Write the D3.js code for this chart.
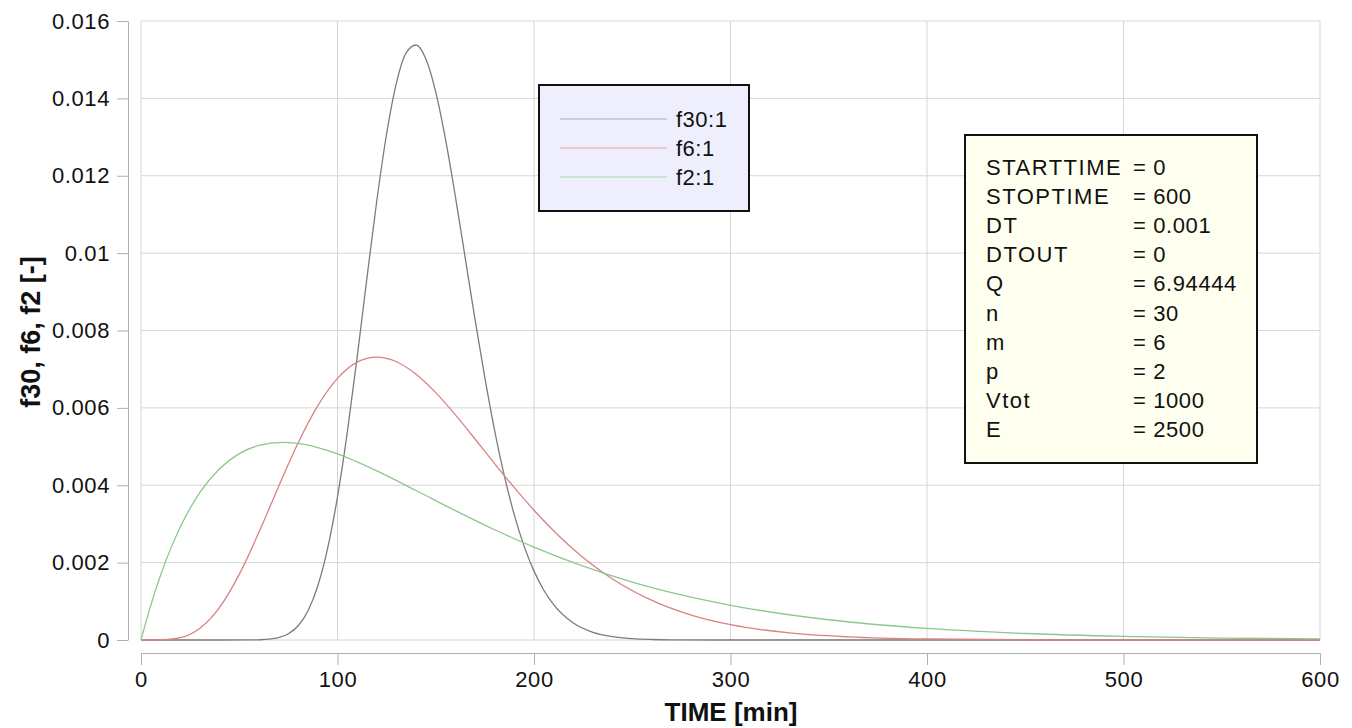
<!DOCTYPE html>
<html>
<head>
<meta charset="utf-8">
<script src="https://cdn.jsdelivr.net/npm/d3@7"></script>
<style>
  html, body { margin: 0; padding: 0; background: #fff; }
  svg { display: block; font-family: "Liberation Sans", Arial, sans-serif; }
</style>
</head>
<body>
<svg id="chart" width="1352" height="728"></svg>
<script>
// ---- data ----
const timeF30 = [0,55,60,65,70,75,80,85,90,95,100,105,110,115,120,125,130,135,140,145,150,155,160,165,170,175,180,185,190,195,200,205,210,220,230,240,250,260,270,300,600];
const valF30  = [0,0.000001,0.0000057,0.0000204,0.0000617,0.000161,0.000369,0.000756,0.001401,0.002372,0.003702,0.005375,0.007312,0.009365,0.011353,0.013086,0.014401,0.015181,0.015380,0.015015,0.014161,0.012933,0.011461,0.009873,0.008282,0.006774,0.005407,0.004223,0.003229,0.002420,0.001780,0.001287,0.000912,0.000438,0.000198,0.0000846,0.0000344,0.0000134,0.000005,0,0];

const timeF6 = [0,10,20,30,40,50,60,70,80,90,100,110,120,130,140,150,160,170,180,190,200,220,240,260,280,300,330,360,400,450,500,600];
const valF6  = [0,0.0000029,0.0000607,0.000304,0.000843,0.001697,0.002783,0.003964,0.005098,0.006056,0.006761,0.007181,0.007311,0.007193,0.006868,0.006393,0.005819,0.005195,0.004557,0.003937,0.003354,0.002347,0.001576,0.001022,0.000643,0.000395,0.000182,0.0000807,0.0000257,0.0000058,0.000001,0];

const timeF2 = [0,5,10,15,20,30,40,50,60,72,80,90,100,120,140,160,180,200,225,250,275,300,350,400,450,500,550,600];
const valF2  = [0,0.000900,0.001679,0.002349,0.002922,0.003815,0.004427,0.004816,0.005030,0.005109,0.005080,0.004974,0.004810,0.004372,0.003864,0.003345,0.002850,0.002399,0.001907,0.001497,0.001164,0.000897,0.000523,0.000298,0.000168,0.000093,0.000051,0.000028];

const seriesNames = ["f30:1", "f6:1", "f2:1"];
const xTicks = [0,100,200,300,400,500,600];
const yTicks = [0,0.002,0.004,0.006,0.008,0.01,0.012,0.014,0.016];
const paramNames  = ["STARTTIME","STOPTIME","DT","DTOUT","Q","n","m","p","Vtot","E"];
const paramValues = ["= 0","= 600","= 0.001","= 0","= 6.94444","= 30","= 6","= 2","= 1000","= 2500"];

// ---- layout ----
const svg = d3.select("#chart");
const plot = {left: 141, right: 1320, top: 21, bottom: 640};
const x = d3.scaleLinear().domain([0, 600]).range([plot.left, plot.right]);
const y = d3.scaleLinear().domain([0, 0.016]).range([plot.bottom, plot.top]);
const colors = ["#7c7c7c", "#d98282", "#8cc88c"];
const legendColors = ["#a8a8b8", "#eea0a0", "#a8d4a8"];

// gridlines
const grid = svg.append("g");
grid.selectAll("line.v").data(xTicks).join("line")
  .attr("x1", d => x(d)).attr("x2", d => x(d))
  .attr("y1", plot.top).attr("y2", plot.bottom)
  .attr("stroke", "#d6d6d6").attr("stroke-width", 1);
grid.selectAll("line.h").data(yTicks).join("line")
  .attr("x1", plot.left).attr("x2", plot.right)
  .attr("y1", d => y(d)).attr("y2", d => y(d))
  .attr("stroke", "#d6d6d6").attr("stroke-width", 1);

// axes
const yAxis = svg.append("g").attr("transform", "translate(128,0)")
  .call(d3.axisLeft(y).tickValues(yTicks).tickFormat(d3.format("~g"))
        .tickSizeInner(11).tickSizeOuter(0).tickPadding(7));
const xAxis = svg.append("g").attr("transform", "translate(0,653)")
  .call(d3.axisBottom(x).tickValues(xTicks).tickFormat(d3.format("d"))
        .tickSizeInner(12).tickSizeOuter(0).tickPadding(6));
[xAxis, yAxis].forEach(a => {
  a.select(".domain").attr("stroke", "#b0b0b0");
  a.selectAll(".tick line").attr("stroke", "#b0b0b0");
  a.selectAll(".tick text").attr("fill", "#111").style("font-size", "22px")
    .style("font-family", "'Liberation Sans', Arial, sans-serif").style("letter-spacing", "0.6px");
});

// axis titles
svg.append("text").attr("x", 731).attr("y", 721).attr("text-anchor", "middle")
  .style("font-size", "26px").style("font-weight", "bold").attr("fill", "#111")
  .text("TIME [min]");
svg.append("text").attr("transform", "translate(40,332) rotate(-90)").attr("text-anchor", "middle")
  .style("font-size", "27px").style("font-weight", "bold").attr("fill", "#111")
  .text("f30, f6, f2 [-]");

// curves
const series = [
  {t: timeF30, v: valF30},
  {t: timeF6, v: valF6},
  {t: timeF2, v: valF2}
];
const line = d3.line().x(d => x(d[0])).y(d => y(d[1])).curve(d3.curveMonotoneX);
series.forEach((s, i) => {
  svg.append("path")
    .datum(s.t.map((t, j) => [t, s.v[j]]))
    .attr("d", line)
    .attr("fill", "none")
    .attr("stroke", colors[i])
    .attr("stroke-width", 1.3);
});

// legend
const lg = svg.append("g");
lg.append("rect").attr("x", 539).attr("y", 85).attr("width", 210).attr("height", 126)
  .attr("fill", "#eeeefd").attr("stroke", "#111").attr("stroke-width", 2);
seriesNames.forEach((name, i) => {
  const ly = 119 + i * 29;
  lg.append("line").attr("x1", 560).attr("x2", 667).attr("y1", ly).attr("y2", ly)
    .attr("stroke", legendColors[i]).attr("stroke-width", 1.2);
  lg.append("text").attr("x", 676).attr("y", ly + 8)
    .style("font-size", "22px").style("letter-spacing", "0.5px").attr("fill", "#111").text(name);
});

// parameter box
const pb = svg.append("g");
pb.append("rect").attr("x", 965).attr("y", 135).attr("width", 292).attr("height", 328)
  .attr("fill", "#fffff0").attr("stroke", "#111").attr("stroke-width", 2);
paramNames.forEach((name, i) => {
  const py = 175 + i * 29.1;
  pb.append("text").attr("x", 986).attr("y", py)
    .style("font-size", "22px").style("letter-spacing", "1.5px").attr("fill", "#111").text(name);
  pb.append("text").attr("x", 1133).attr("y", py)
    .style("font-size", "22px").style("letter-spacing", "0.6px").attr("fill", "#111").text(paramValues[i]);
});
</script>
</body>
</html>
